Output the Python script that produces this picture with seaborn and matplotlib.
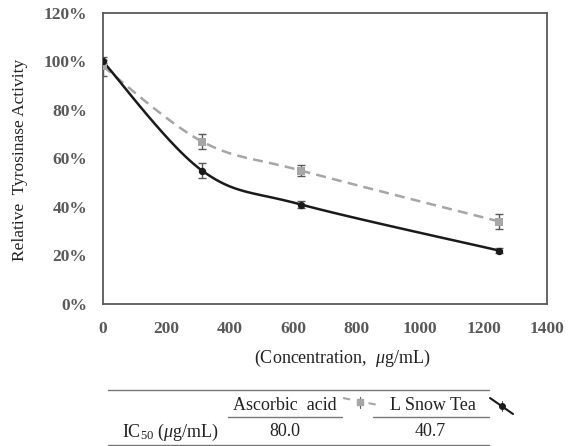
import numpy as np
import pandas as pd
import seaborn as sns
import matplotlib.pyplot as plt
from matplotlib.lines import Line2D

sns.set_style("white")
plt.rcParams['font.family'] = ['Liberation Serif', 'DejaVu Serif']
plt.rcParams['mathtext.fontset'] = 'custom'
plt.rcParams['mathtext.it'] = 'Liberation Serif:italic'
plt.rcParams['mathtext.rm'] = 'Liberation Serif'

# data
conc = [0, 312.5, 625, 1250]
ascorbic = [98, 67, 55, 34]
ascorbic_err = [4, 3, 2.3, 3]
snow_tea = [100, 55, 41, 22]
snow_tea_err = [0.5, 3, 1.5, 1]
x_ticks = [0, 200, 400, 600, 800, 1000, 1200, 1400]
y_ticks = [0, 20, 40, 60, 80, 100, 120]
ic50 = ['80.0', '40.7']
names = ['Ascorbic  acid', 'L Snow Tea']


def smooth(x, y, n=40):
    # Catmull-Rom style smoothing like Excel's smoothed line
    x = np.asarray(x, float)
    y = np.asarray(y, float)
    px = np.concatenate([[x[0]], x, [x[-1]]])
    py = np.concatenate([[y[0]], y, [y[-1]]])
    xs, ys = [], []
    for i in range(1, len(px) - 2):
        p0, p1, p2, p3 = [np.array([px[j], py[j]]) for j in (i - 1, i, i + 1, i + 2)]
        c1 = p1 + (p2 - p0) / 6
        c2 = p2 - (p3 - p1) / 6
        t = np.linspace(0, 1, n)[:, None]
        b = (1 - t) ** 3 * p1 + 3 * (1 - t) ** 2 * t * c1 + 3 * (1 - t) * t ** 2 * c2 + t ** 3 * p2
        xs.extend(b[:, 0]); ys.extend(b[:, 1])
    return np.array(xs), np.array(ys)


fig = plt.figure(figsize=(5.74, 4.46), dpi=100)
ax = fig.add_axes([0.1794, 0.3184, 0.7735, 0.6525])

spine_c = '#595959'
gray = '#a6a6a6'
black = '#1a1a1a'
txt = '#222222'

sx, sy = smooth(conc, ascorbic)
sns.lineplot(x=sx, y=sy, ax=ax, color=gray, lw=1.8, sort=False, linestyle=(0, (4, 2.5)))
sx, sy = smooth(conc, snow_tea)
sns.lineplot(x=sx, y=sy, ax=ax, color=black, lw=1.8, sort=False)

ax.errorbar(conc, ascorbic, yerr=ascorbic_err, fmt='none', ecolor=spine_c, elinewidth=1, capsize=3, capthick=1, zorder=3)
ax.errorbar(conc, snow_tea, yerr=snow_tea_err, fmt='none', ecolor=spine_c, elinewidth=1, capsize=3, capthick=1, zorder=3)
ax.scatter(conc, ascorbic, marker='s', s=28, color=gray, zorder=4, linewidths=0)
ax.scatter(conc, snow_tea, marker='o', s=28, color=black, zorder=5, linewidths=0)

ax.set_xlim(0, 1400)
ax.set_ylim(0, 120)
ax.set_xticks(x_ticks)
ax.set_yticks(y_ticks)
ax.set_yticklabels([f'{v}%' for v in y_ticks])
ax.tick_params(length=0, labelsize=12.5, colors=spine_c)
for lab in ax.get_xticklabels() + ax.get_yticklabels():
    lab.set_fontweight('bold')
ax.tick_params(axis='x', pad=12)
ax.tick_params(axis='y', pad=11.5)
for s in ax.spines.values():
    s.set_color(spine_c)
    s.set_linewidth(1.3)

fig.text(20 / 574, 1 - 160 / 446, 'Relative  Tyrosinase Activity', rotation=90,
         ha='center', va='center', fontsize=12.5, color=txt)
fig.text(342 / 574, 1 - 358 / 446, r'(Concentration,  $\mathit{\mu}$g/mL)',
         ha='center', va='center', fontsize=13, color=txt)


# table below
def hline(x0, x1, y, lw=1.0):
    fig.add_artist(Line2D([x0 / 574, x1 / 574], [1 - y / 446, 1 - y / 446], color='#777777', lw=lw))


hline(108, 489, 390)
hline(228, 342, 417)
hline(373, 489, 417)
hline(108, 489, 445)

fig.text(285 / 574, 1 - 405 / 446, names[0], ha='center', va='center', fontsize=13, color=txt)
fig.text(433 / 574, 1 - 405 / 446, names[1], ha='center', va='center', fontsize=13, color=txt)
fig.text(122 / 574, 1 - 432 / 446, r'IC$_{50}$ ($\mathit{\mu}$g/mL)', ha='left', va='center', fontsize=13, color=txt)
fig.text(285 / 574, 1 - 432 / 446, ic50[0], ha='center', va='center', fontsize=13, color=txt)
fig.text(430 / 574, 1 - 432 / 446, ic50[1], ha='center', va='center', fontsize=13, color=txt)

# legend keys in the table
fig.add_artist(Line2D([343 / 574, 378 / 574], [1 - 398 / 446, 1 - 405 / 446], color=gray, lw=1.5,
                      linestyle=(0, (3.5, 9))))
fig.add_artist(Line2D([360 / 574, 360 / 574], [1 - 397 / 446, 1 - 408 / 446], color=spine_c, lw=0.8))
fig.add_artist(Line2D([360 / 574], [1 - 402 / 446], marker='s', ms=4.5, color=gray, lw=0))
fig.add_artist(Line2D([490 / 574, 513 / 574], [1 - 398 / 446, 1 - 414 / 446], color=black, lw=1.5))
fig.add_artist(Line2D([502 / 574, 502 / 574], [1 - 401 / 446, 1 - 411 / 446], color=spine_c, lw=0.8))
fig.add_artist(Line2D([502 / 574], [1 - 406 / 446], marker='o', ms=4, color=black, lw=0))

fig.savefig('out.png', dpi=100)
